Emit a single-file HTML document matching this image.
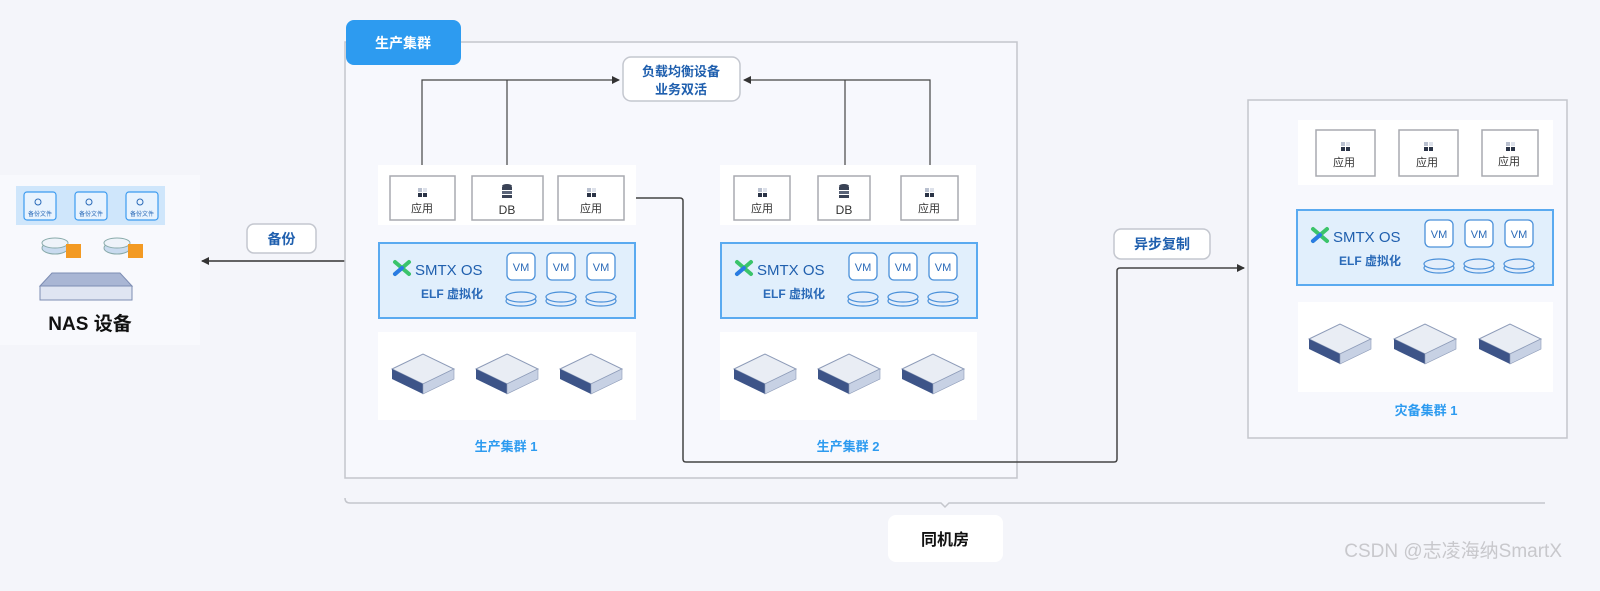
<!DOCTYPE html>
<html><head><meta charset="utf-8"><style>
html,body{margin:0;padding:0;background:#f4f5fa;}
svg{display:block;font-family:"Liberation Sans","Noto Sans CJK SC",sans-serif;}
</style></head><body>
<svg width="1600" height="591" viewBox="0 0 1600 591" xmlns="http://www.w3.org/2000/svg">
<defs>
<marker id="ar" markerWidth="8" markerHeight="8" refX="7" refY="4" orient="auto" markerUnits="userSpaceOnUse"><path d="M0,0 L8,4 L0,8 z" fill="#333"/></marker>
<g id="srv">
<polygon points="0,15 31,0 62,15 31,30" fill="#e9edf4" stroke="#8d9bb8" stroke-width="1"/>
<polygon points="0,15 31,30 31,40 0,25" fill="#3d5488"/>
<polygon points="31,30 62,15 62,25 31,40" fill="#c7d1e4" stroke="#8d9bb8" stroke-width="0.6"/>
</g>
<g id="appico"><rect x="-4" y="-6" width="4" height="4" fill="#b9c0cf"/><rect x="-4" y="-1" width="4" height="4" fill="#2b3447"/><rect x="1" y="-1" width="4" height="4" fill="#2b3447"/><rect x="1" y="-6" width="4" height="4" fill="#dde1ea"/></g>
<g id="dbico"><ellipse cx="0" cy="-8" rx="5" ry="2" fill="#3a4356"/><rect x="-5" y="-7" width="10" height="3" fill="#3a4356"/><rect x="-5" y="-3" width="10" height="3" fill="#5a6478"/><rect x="-5" y="1" width="10" height="3" fill="#3a4356"/></g>
<g id="disk"><ellipse cx="0" cy="4" rx="15" ry="5" fill="#e3eefb" stroke="#4a90d9" stroke-width="1.2"/><ellipse cx="0" cy="0" rx="15" ry="5" fill="#e3eefb" stroke="#4a90d9" stroke-width="1.2"/></g>
<g id="smtx">
<rect x="0" y="0" width="256" height="75" fill="#e1effc" stroke="#5aaaf0" stroke-width="2"/>
<path d="M16,19 L30,31 M16,31 L30,19" stroke="#3bc46a" stroke-width="4" stroke-linecap="round"/>
<path d="M16,31 L23,25" stroke="#2a7be4" stroke-width="4" stroke-linecap="round"/>
<text x="36" y="32" font-size="15" fill="#1f5fae">SMTX OS</text>
<text x="42" y="55" font-size="12" fill="#2a6ab8" font-weight="bold">ELF 虚拟化</text>
<g fill="#fff" stroke="#4a90d9" stroke-width="1.3">
<rect x="128" y="10" width="28" height="27" rx="5"/><rect x="168" y="10" width="28" height="27" rx="5"/><rect x="208" y="10" width="28" height="27" rx="5"/></g>
<g font-size="11" fill="#2a6ab8" text-anchor="middle"><text x="142" y="28">VM</text><text x="182" y="28">VM</text><text x="222" y="28">VM</text></g>
<use href="#disk" x="142" y="54"/><use href="#disk" x="182" y="54"/><use href="#disk" x="222" y="54"/>
</g>
</defs>

<rect x="0" y="175" width="200" height="170" fill="#f8f9fd"/>
<rect x="16" y="186" width="149" height="39" fill="#cfe6fb"/>
<g fill="#e8f3fe" stroke="#3c9bf0" stroke-width="1.2">
<rect x="24" y="192" width="32" height="28" rx="3"/><rect x="75" y="192" width="32" height="28" rx="3"/><rect x="126" y="192" width="32" height="28" rx="3"/></g>
<g font-size="6" fill="#2a6ab8" text-anchor="middle"><text x="40" y="216">备份文件</text><text x="91" y="216">备份文件</text><text x="142" y="216">备份文件</text></g>
<g fill="none" stroke="#2a6ab8" stroke-width="1"><circle cx="38" cy="202" r="3"/><circle cx="89" cy="202" r="3"/><circle cx="140" cy="202" r="3"/></g>
<g><ellipse cx="55" cy="248" rx="13" ry="6" fill="#c9dbef" stroke="#8aa" /><ellipse cx="55" cy="243" rx="13" ry="5" fill="#eef3f9" stroke="#8aa"/><rect x="66" y="244" width="15" height="14" fill="#f39a23"/>
<ellipse cx="117" cy="248" rx="13" ry="6" fill="#c9dbef" stroke="#8aa"/><ellipse cx="117" cy="243" rx="13" ry="5" fill="#eef3f9" stroke="#8aa"/><rect x="128" y="244" width="15" height="14" fill="#f39a23"/></g>
<polygon points="40,286 52,273 120,273 132,286" fill="#a9b6d4" stroke="#7d8db3"/>
<rect x="40" y="286" width="92" height="14" fill="#dfe5f2" stroke="#7d8db3"/>
<text x="90" y="330" font-size="19" font-weight="bold" text-anchor="middle" fill="#111">NAS 设备</text>

<line x1="345" y1="261" x2="202" y2="261" stroke="#333" stroke-width="1.5" marker-end="url(#ar)"/>
<rect x="247" y="224" width="69" height="29" rx="7" fill="#fff" stroke="#c4c7cf" stroke-width="1.5"/>
<text x="281.5" y="244" font-size="14" text-anchor="middle" fill="#1f5fae" font-weight="bold">备份</text>

<rect x="345" y="42" width="672" height="436" fill="#f7f8fd" stroke="#c4c6cc" stroke-width="1.5"/>
<rect x="346" y="20" width="115" height="45" rx="8" fill="#2d9bf0"/>
<text x="403" y="48" font-size="14" text-anchor="middle" fill="#fff" font-weight="bold">生产集群</text>

<rect x="623" y="57" width="117" height="44" rx="8" fill="#fff" stroke="#c4c7cf" stroke-width="1.5"/>
<text x="681" y="76" font-size="13" text-anchor="middle" fill="#1f5fae" font-weight="bold">负载均衡设备</text>
<text x="681" y="94" font-size="13" text-anchor="middle" fill="#1f5fae" font-weight="bold">业务双活</text>

<g fill="none" stroke="#444" stroke-width="1.2">
<path d="M422,176 V80 H619" marker-end="url(#ar)"/>
<path d="M507,176 V80"/>
<path d="M930,176 V80 H744" marker-end="url(#ar)"/>
<path d="M845,176 V80"/>
<path d="M624,198 H680 Q683,198 683,201 V459 Q683,462 686,462 H1114 Q1117,462 1117,459 V271 Q1117,268 1120,268 H1244" stroke-width="1.5" marker-end="url(#ar)"/>
</g>

<rect x="378" y="165" width="258" height="60" fill="#fff"/>
<g fill="#fff" stroke="#a8aab0" stroke-width="1.5">
<rect x="390" y="176" width="65" height="44"/><rect x="472" y="176" width="71" height="44"/><rect x="558" y="176" width="66" height="44"/></g>
<use href="#appico" x="422" y="194"/><use href="#dbico" x="507" y="194"/><use href="#appico" x="591" y="194"/>
<g font-size="11" text-anchor="middle" fill="#333"><text x="422" y="212">应用</text><text x="507" y="214" font-size="12">DB</text><text x="591" y="212">应用</text></g>
<use href="#smtx" x="379" y="243"/>
<rect x="378" y="332" width="258" height="88" fill="#fff"/>
<use href="#srv" x="392" y="354"/><use href="#srv" x="476" y="354"/><use href="#srv" x="560" y="354"/>
<text x="506" y="451" font-size="13" text-anchor="middle" fill="#2d9bf0" font-weight="bold">生产集群 1</text>

<rect x="720" y="165" width="256" height="60" fill="#fff"/>
<g fill="#fff" stroke="#a8aab0" stroke-width="1.5">
<rect x="734" y="176" width="56" height="44"/><rect x="818" y="176" width="52" height="44"/><rect x="901" y="176" width="57" height="44"/></g>
<use href="#appico" x="762" y="194"/><use href="#dbico" x="844" y="194"/><use href="#appico" x="929" y="194"/>
<g font-size="11" text-anchor="middle" fill="#333"><text x="762" y="212">应用</text><text x="844" y="214" font-size="12">DB</text><text x="929" y="212">应用</text></g>
<use href="#smtx" x="721" y="243"/>
<rect x="720" y="332" width="257" height="88" fill="#fff"/>
<use href="#srv" x="734" y="354"/><use href="#srv" x="818" y="354"/><use href="#srv" x="902" y="354"/>
<text x="848" y="451" font-size="13" text-anchor="middle" fill="#2d9bf0" font-weight="bold">生产集群 2</text>

<rect x="1114" y="229" width="96" height="30" rx="7" fill="#fff" stroke="#c4c7cf" stroke-width="1.5"/>
<text x="1162" y="249" font-size="14" text-anchor="middle" fill="#1f5fae" font-weight="bold">异步复制</text>

<rect x="1248" y="100" width="319" height="338" fill="#f7f8fd" stroke="#c4c6cc" stroke-width="1.5"/>
<rect x="1298" y="120" width="255" height="65" fill="#fff"/>
<g fill="#fff" stroke="#a8aab0" stroke-width="1.5">
<rect x="1316" y="130" width="59" height="46"/><rect x="1399" y="130" width="59" height="46"/><rect x="1482" y="130" width="56" height="46"/></g>
<use href="#appico" x="1345" y="148"/><use href="#appico" x="1428" y="148"/><use href="#appico" x="1510" y="148"/>
<g font-size="11" text-anchor="middle" fill="#333"><text x="1344" y="166">应用</text><text x="1427" y="166">应用</text><text x="1509" y="165">应用</text></g>
<use href="#smtx" x="1297" y="210"/>
<rect x="1298" y="302" width="255" height="90" fill="#fff"/>
<use href="#srv" x="1309" y="324"/><use href="#srv" x="1394" y="324"/><use href="#srv" x="1479" y="324"/>
<text x="1426" y="415" font-size="13" text-anchor="middle" fill="#2d9bf0" font-weight="bold">灾备集群 1</text>

<path d="M345,498 Q345,503 350,503 H941 L945,507 L949,503 H1545" fill="none" stroke="#c4c6cc" stroke-width="1.5"/>
<rect x="888" y="515" width="115" height="47" rx="8" fill="#fff"/>
<text x="945" y="545" font-size="16" text-anchor="middle" fill="#111" font-weight="bold">同机房</text>

<text x="1562" y="557" font-size="19" text-anchor="end" fill="#c8c8cc">CSDN @志凌海纳SmartX</text>
</svg>
</body></html>
